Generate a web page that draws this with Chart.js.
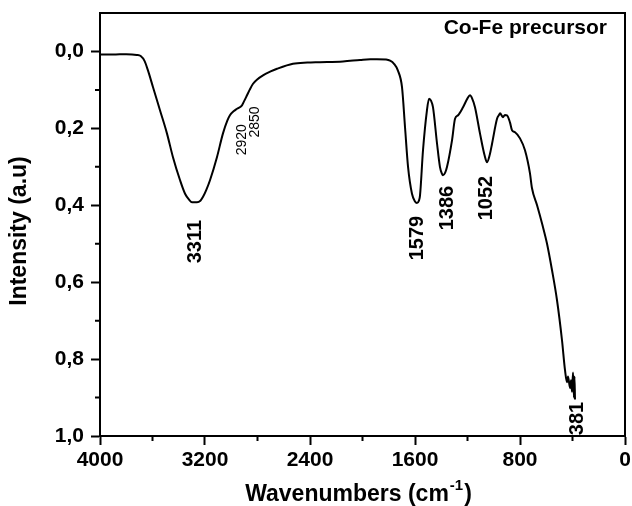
<!DOCTYPE html>
<html>
<head>
<meta charset="utf-8">
<script src="https://cdn.jsdelivr.net/npm/chart.js@4.4.1/dist/chart.umd.min.js"></script>
<style>
html,body{margin:0;padding:0;background:#fff;}
canvas{display:block;}
</style>
</head>
<body>
<canvas id="myChart" width="632" height="506"></canvas>
<script>
//FTIR spectrum of the Co-Fe precursor
var wavenumbers = [4000,3900,3800,3720,3690,3660,3634,3596,3543,3490,3444,3390,3352,3320,3299,3261,3235,3215,3190,3162,
  3109,3063,3030,3010,2980,2956,2918,2900,2880,2860,2834,2800,2758,2700,2651,2530,2420,2324,2149,2019,
  1940,1890,1820,1790,1760,1730,1699,1676,1653,1623,1600,1585,1570,1562,1539,1509,1493,1478,1463,1432,
  1410,1395,1387,1370,1356,1318,1295,1272,1234,1200,1181,1165,1143,1105,1070,1051,1030,1013,975,960,
  952,930,915,899,876,861,838,800,762,724,709,670,630,594,556,518,480,457,442,434,
  419,411,404,396,389,385,381];
var intensity = [0.008,0.008,0.007,0.009,0.012,0.025,0.05,0.093,0.153,0.213,0.275,0.335,0.370,0.386,0.392,0.392,0.388,0.378,0.360,0.335,
  0.275,0.213,0.180,0.166,0.155,0.149,0.140,0.128,0.114,0.100,0.084,0.072,0.062,0.052,0.045,0.032,0.029,0.028,0.026,0.022,
  0.020,0.020,0.021,0.024,0.032,0.050,0.093,0.197,0.300,0.370,0.390,0.394,0.388,0.375,0.257,0.153,0.123,0.128,0.145,0.240,
  0.300,0.318,0.322,0.315,0.300,0.231,0.175,0.166,0.145,0.122,0.114,0.122,0.145,0.213,0.270,0.288,0.268,0.240,0.175,0.165,
  0.161,0.171,0.165,0.166,0.185,0.205,0.210,0.226,0.257,0.317,0.355,0.400,0.450,0.500,0.569,0.647,0.751,0.829,0.860,0.845,
  0.875,0.855,0.885,0.835,0.900,0.845,0.905];

//peak labels
var peakLabels = ['3311','2920','2850','1579','1386','1052','381'];
var peakPositions = [3311,2920,2850,1579,1386,1052,381];

//axis ticks
var xMajorTicks = [4000,3200,2400,1600,800,0];
var xMinorTicks = [3600,2800,2000,1200,400];
var yMajorTicks = [0.0,0.2,0.4,0.6,0.8,1.0];
var yMinorTicks = [0.1,0.3,0.5,0.7,0.9];

var FONT = "'Liberation Sans', Arial, sans-serif";

var points = [];
for (var i = 0; i < wavenumbers.length; i++) {
  points.push({x: wavenumbers[i], y: intensity[i]});
}

//label layout: pixel offset of the text centre and the value where the text starts
var labelLayout = {
  '3311': {dx: 5, bottom: 0.551, size: 20, bold: true},
  '2920': {dx: 0, bottom: 0.270, size: 14, bold: false},
  '2850': {dx: 4, bottom: 0.224, size: 14, bold: false},
  '1579': {dx: 0, bottom: 0.543, size: 20, bold: true},
  '1386': {dx: 4, bottom: 0.465, size: 20, bold: true},
  '1052': {dx: 0, bottom: 0.439, size: 20, bold: true},
  '381':  {dx: 2, bottom: 0.998, size: 20, bold: true}
};

//frame, minor ticks, titles and peak labels
var extras = {
  id: 'extras',
  afterDraw: function(chart){
    var c = chart.ctx;
    var a = chart.chartArea;
    var xs = chart.scales.x, ys = chart.scales.y;
    c.save();
    c.strokeStyle = '#000';
    c.lineWidth = 2;
    //top and right border
    c.beginPath();
    c.moveTo(a.left, a.top);
    c.lineTo(a.right, a.top);
    c.lineTo(a.right, a.bottom);
    c.stroke();
    //minor ticks
    c.beginPath();
    xMinorTicks.forEach(function(v){
      var px = xs.getPixelForValue(v);
      c.moveTo(px, a.bottom);
      c.lineTo(px, a.bottom + 5);
    });
    yMinorTicks.forEach(function(v){
      var py = ys.getPixelForValue(v);
      c.moveTo(a.left, py);
      c.lineTo(a.left - 5, py);
    });
    c.stroke();

    c.fillStyle = '#000';
    //sample name
    c.font = 'bold 21px ' + FONT;
    c.textAlign = 'right';
    c.textBaseline = 'alphabetic';
    c.fillText('Co-Fe precursor', 607, 34);

    //x title with superscript
    var t1 = 'Wavenumbers (cm', sup = '-1', t2 = ')';
    c.font = 'bold 23px ' + FONT;
    var w1 = c.measureText(t1).width, w3 = c.measureText(t2).width;
    c.font = 'bold 15px ' + FONT;
    var w2 = c.measureText(sup).width;
    var tx = (a.left + a.right) / 2 - (w1 + w2 + w3) / 2 - 5;
    c.textAlign = 'left';
    c.font = 'bold 23px ' + FONT;
    c.fillText(t1, tx, 501);
    c.font = 'bold 15px ' + FONT;
    c.fillText(sup, tx + w1 + 1, 490);
    c.font = 'bold 23px ' + FONT;
    c.fillText(t2, tx + w1 + w2 + 2, 501);

    //y title
    c.save();
    c.translate(26, 231);
    c.rotate(-Math.PI / 2);
    c.textAlign = 'center';
    c.textBaseline = 'alphabetic';
    c.font = 'bold 23px ' + FONT;
    c.fillText('Intensity (a.u)', 0, 0);
    c.restore();

    //peak labels, read from bottom to top
    for (var i = 0; i < peakLabels.length; i++) {
      var lay = labelLayout[peakLabels[i]];
      var px = xs.getPixelForValue(peakPositions[i]) + lay.dx;
      var py = ys.getPixelForValue(lay.bottom);
      c.save();
      c.translate(px, py);
      c.rotate(-Math.PI / 2);
      c.font = (lay.bold ? 'bold ' : '') + lay.size + 'px ' + FONT;
      c.textAlign = 'left';
      c.textBaseline = 'middle';
      c.fillText(peakLabels[i], 0, 0);
      c.restore();
    }
    c.restore();
  }
};

var ctx = document.getElementById('myChart');
var chart = new Chart(ctx, {
  type: 'line',
  data: {
    datasets: [{
      label: 'Co-Fe precursor',
      data: points,
      borderColor: '#000',
      borderWidth: 2,
      pointRadius: 0,
      fill: false,
      cubicInterpolationMode: 'monotone'
    }]
  },
  options: {
    responsive: false,
    animation: false,
    devicePixelRatio: 1,
    layout: {padding: {top: 13, right: 7, left: 0, bottom: 0}},
    plugins: {legend: {display: false}, tooltip: {enabled: false}},
    scales: {
      x: {
        type: 'linear',
        reverse: true,
        min: 0,
        max: 4000,
        afterBuildTicks: function(scale){
          scale.ticks = xMajorTicks.map(function(v){ return {value: v}; });
        },
        afterFit: function(scale){
          scale.height = 70;
          scale.paddingLeft = 0;
          scale.paddingRight = 0;
        },
        ticks: {
          autoSkip: false,
          maxRotation: 0,
          padding: 3,
          color: '#000',
          font: {family: FONT, size: 21, weight: 'bold'},
          callback: function(v){ return String(v); }
        },
        grid: {drawOnChartArea: false, tickLength: 9, tickWidth: 2, tickColor: '#000'},
        border: {color: '#000', width: 2}
      },
      y: {
        type: 'linear',
        reverse: true,
        min: -0.1,
        max: 1.0,
        afterBuildTicks: function(scale){
          scale.ticks = yMajorTicks.map(function(v){ return {value: v}; });
        },
        afterFit: function(scale){
          scale.width = 100;
          scale.paddingTop = 0;
          scale.paddingBottom = 0;
        },
        ticks: {
          autoSkip: false,
          padding: 7,
          color: '#000',
          font: {family: FONT, size: 21, weight: 'bold'},
          callback: function(v){ return v.toFixed(1).replace('.', ','); }
        },
        grid: {drawOnChartArea: false, tickLength: 9, tickWidth: 2, tickColor: '#000'},
        border: {color: '#000', width: 2}
      }
    }
  },
  plugins: [extras]
});
</script>
</body>
</html>
